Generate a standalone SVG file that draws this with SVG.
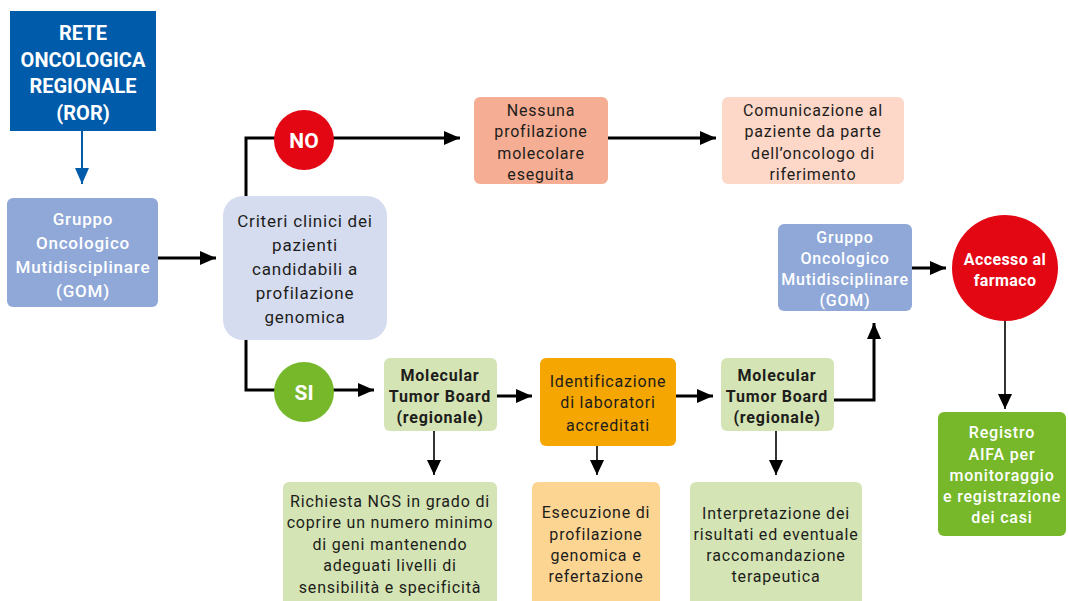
<svg xmlns="http://www.w3.org/2000/svg" width="1068" height="601" viewBox="0 0 1068 601">
<defs>
<style>
text{font-family:Roboto,"Liberation Sans",sans-serif;text-anchor:middle;font-size:16px;fill:#1d1d1b;letter-spacing:0.8px}
.w{fill:#ffffff}
.b{font-weight:bold}
.m{font-weight:500}
.ns{letter-spacing:0px}
.ln{fill:none;stroke:#000;stroke-width:3}
.th{fill:none;stroke:#000;stroke-width:1.6}
</style>
<marker id="ah" markerUnits="userSpaceOnUse" markerWidth="17" markerHeight="15" refX="16" refY="7" orient="auto"><path d="M0,0 L16,7 L0,14 z" fill="#000"/></marker>
<marker id="at" markerUnits="userSpaceOnUse" markerWidth="15" markerHeight="15" refX="15" refY="7" orient="auto"><path d="M0,0 L15,7 L0,14 z" fill="#000"/></marker>
<marker id="ab" markerUnits="userSpaceOnUse" markerWidth="17" markerHeight="15" refX="16" refY="7" orient="auto"><path d="M0,0 L16,7 L0,14 z" fill="#005baa"/></marker>
</defs>
<rect width="1068" height="601" fill="#ffffff"/>
<g id="connectors">
<line x1="82" y1="131" x2="82" y2="184" stroke="#005baa" stroke-width="2" marker-end="url(#ab)"/>
<line class="ln" x1="158" y1="258" x2="216" y2="258" marker-end="url(#ah)"/>
<polyline class="ln" points="246,196 246,138 460,138" marker-end="url(#ah)"/>
<line class="ln" x1="608" y1="138" x2="716" y2="138" marker-end="url(#ah)"/>
<polyline class="ln" points="246,340 246,390 374,390" marker-end="url(#ah)"/>
<line class="ln" x1="497" y1="396" x2="532" y2="396" marker-end="url(#ah)"/>
<line class="ln" x1="676" y1="396" x2="713" y2="396" marker-end="url(#ah)"/>
<polyline class="ln" points="834,400 874,400 874,323" marker-end="url(#ah)"/>
<line class="ln" x1="912" y1="268" x2="946" y2="268" marker-end="url(#ah)"/>
<line class="th" x1="1005" y1="321" x2="1005" y2="409" marker-end="url(#at)"/>
<line class="th" x1="434" y1="431" x2="434" y2="475" marker-end="url(#at)"/>
<line class="th" x1="597" y1="446" x2="597" y2="475" marker-end="url(#at)"/>
<line class="th" x1="776" y1="431" x2="776" y2="475" marker-end="url(#at)"/>
</g>
<g id="ror">
<rect x="10" y="11" width="146" height="120" fill="#005baa"/>
<text class="w b ns" x="83" y="40" style="font-size:20px">RETE</text>
<text class="w b ns" x="83" y="67" style="font-size:20px">ONCOLOGICA</text>
<text class="w b ns" x="83" y="93" style="font-size:20px">REGIONALE</text>
<text class="w b ns" x="83" y="120" style="font-size:20px">(ROR)</text>
</g>
<g id="gom1">
<rect x="7" y="198" width="151" height="109" rx="6" fill="#8fa8d8"/>
<text class="w m" x="83" y="225" style="font-size:17px">Gruppo</text>
<text class="w m" x="83" y="249" style="font-size:17px">Oncologico</text>
<text class="w m" x="83" y="273" style="font-size:17px">Mutidisciplinare</text>
<text class="w m" x="83" y="297" style="font-size:17px">(GOM)</text>
</g>
<g id="criteri">
<rect x="223" y="196" width="164" height="144" rx="20" fill="#d5dcf0"/>
<text x="305" y="227" style="font-size:17px">Criteri clinici dei</text>
<text x="305" y="251" style="font-size:17px">pazienti</text>
<text x="305" y="275" style="font-size:17px">candidabili a</text>
<text x="305" y="299" style="font-size:17px">profilazione</text>
<text x="305" y="323" style="font-size:17px">genomica</text>
</g>
<g id="no">
<circle cx="304" cy="140" r="30" fill="#e30613"/>
<text class="w b ns" x="304" y="148" style="font-size:21px">NO</text>
</g>
<g id="nessuna">
<rect x="474" y="97" width="134" height="87" rx="6" fill="#f5ad93"/>
<text x="541" y="116">Nessuna</text>
<text x="541" y="137">profilazione</text>
<text x="541" y="159">molecolare</text>
<text x="541" y="180">eseguita</text>
</g>
<g id="comunicazione">
<rect x="722" y="97" width="182" height="87" rx="6" fill="#fdd7c8"/>
<text x="813" y="116">Comunicazione al</text>
<text x="813" y="137">paziente da parte</text>
<text x="813" y="159">dell’oncologo di</text>
<text x="813" y="180">riferimento</text>
</g>
<g id="gom2">
<rect x="778" y="224" width="134" height="87" rx="6" fill="#8fa8d8"/>
<text class="w m" x="845" y="243">Gruppo</text>
<text class="w m" x="845" y="264">Oncologico</text>
<text class="w m" x="845" y="285">Mutidisciplinare</text>
<text class="w m" x="845" y="306">(GOM)</text>
</g>
<g id="accesso">
<circle cx="1005" cy="268" r="53" fill="#e30613"/>
<text class="w b" x="1005" y="265" style="letter-spacing:0.4px">Accesso al</text>
<text class="w b" x="1005" y="286" style="letter-spacing:0.4px">farmaco</text>
</g>
<g id="registro">
<rect x="938" y="412" width="128" height="124" rx="6" fill="#76b82a"/>
<text class="w m" x="1002" y="438">Registro</text>
<text class="w m" x="1002" y="460">AIFA per</text>
<text class="w m" x="1002" y="481">monitoraggio</text>
<text class="w m" x="1002" y="502">e registrazione</text>
<text class="w m" x="1002" y="523">dei casi</text>
</g>
<g id="si">
<circle cx="304" cy="392" r="30" fill="#76b82a"/>
<text class="w b ns" x="304" y="400" style="font-size:21px">SI</text>
</g>
<g id="mtb1">
<rect x="384" y="358" width="113" height="73" rx="6" fill="#d4e4b4"/>
<text class="b" x="440" y="381">Molecular</text>
<text class="b" x="440" y="402">Tumor Board</text>
<text class="b" x="440" y="423">(regionale)</text>
</g>
<g id="identificazione">
<rect x="540" y="358" width="136" height="88" rx="6" fill="#f5a600"/>
<text x="608" y="387">Identificazione</text>
<text x="608" y="408">di laboratori</text>
<text x="608" y="431">accreditati</text>
</g>
<g id="mtb2">
<rect x="721" y="358" width="113" height="73" rx="6" fill="#d4e4b4"/>
<text class="b" x="777" y="381">Molecular</text>
<text class="b" x="777" y="402">Tumor Board</text>
<text class="b" x="777" y="423">(regionale)</text>
</g>
<g id="richiesta">
<rect x="283" y="482" width="214" height="130" rx="6" fill="#d4e4b4"/>
<text x="390" y="507">Richiesta NGS in grado di</text>
<text x="390" y="528">coprire un numero minimo</text>
<text x="390" y="550">di geni mantenendo</text>
<text x="390" y="571">adeguati livelli di</text>
<text x="390" y="593">sensibilità e specificità</text>
</g>
<g id="esecuzione">
<rect x="532" y="482" width="128" height="130" rx="6" fill="#fdd593"/>
<text x="596" y="518">Esecuzione di</text>
<text x="596" y="540">profilazione</text>
<text x="596" y="561">genomica e</text>
<text x="596" y="582">refertazione</text>
</g>
<g id="interpretazione">
<rect x="690" y="482" width="172" height="130" rx="6" fill="#d4e4b4"/>
<text x="776" y="519">Interpretazione dei</text>
<text x="776" y="540">risultati ed eventuale</text>
<text x="776" y="561">raccomandazione</text>
<text x="776" y="582">terapeutica</text>
</g>
</svg>
